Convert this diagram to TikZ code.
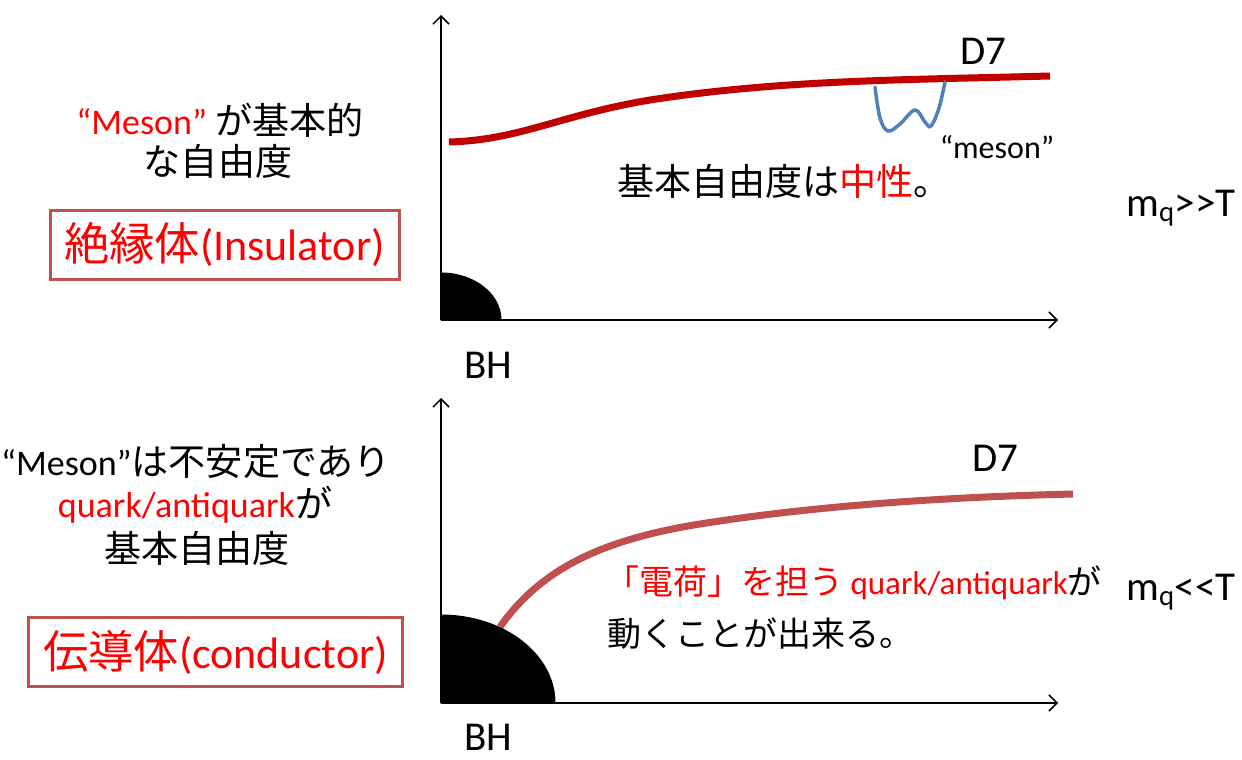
\documentclass[tikz,border=0pt]{standalone}
\usepackage{fontspec}
\setmainfont{Carlito}
\newfontfamily\plainlat{Carlito}
\newfontfamily\jp{Noto Sans CJK JP}[Scale=1.03]
\usetikzlibrary{arrows.meta}
\definecolor{dred}{HTML}{C00000}
\definecolor{bred}{HTML}{C0504D}
\definecolor{mblue}{HTML}{4F81BD}
\definecolor{tred}{HTML}{FF0000}
\tikzset{
  axisline/.style={line width=1.5pt, -{Straight Barb[length=8pt,width=16pt]}},
  body/.style={font=\fontsize{36}{42}\selectfont, inner sep=0pt, align=center},
  smallbody/.style={font=\fontsize{33}{40}\selectfont, inner sep=0pt},
  lbl/.style={font=\fontsize{41}{46}\selectfont, inner sep=0pt},
  kbox/.style={draw=bred, line width=3pt, text=tred, font=\fontsize{44}{50}\selectfont, inner sep=0pt, minimum height=69pt},
  bh/.style={fill=black, draw=black, line width=1pt, line join=round},
  dsev/.style={line width=7pt},
}
\begin{document}
\begin{tikzpicture}[x=1pt,y=-1pt]
\useasboundingbox (0,0) rectangle (1242,760);
% ---------- top panel ----------
\coordinate (o1) at (441,320);
\coordinate (ytop1) at (441,15);
\coordinate (xend1) at (1058,320);
\draw[dsev, dred] (449,142) .. controls (520,140) and (560,115) .. (650,100)
  .. controls (780,80) and (900,80) .. (1050,76);
\draw[mblue, line width=3.5pt, line cap=round] plot[smooth, tension=0.6] coordinates
  {(875,87) (880,118) (888,131) (900,124) (915,110) (925,122) (931,126) (939,108) (945,82)};
\fill[bh] (o1) -- (441,273) arc[start angle=-90, end angle=0, x radius=60, y radius=47] -- cycle;
\draw[axisline] (o1) -- (ytop1);
\draw[axisline] (o1) -- (xend1);
\node[lbl] (bh1) at (488,365) {BH};
\node[lbl] (d71) at (983,51) {D7};
\node[body, font=\fontsize{32}{36}\selectfont] (mes) at (997,147) {“meson”};
\node[body] (neutral) at (784,181) {{\jp 基本自由度は}\textcolor{tred}{\jp 中性}{\jp 。}};
\node[lbl, font=\fontsize{41}{46}\plainlat] (mq1) at (1181,208) {m\textsubscript{q}>>T};
\node[body] (t1a) at (220,120) {\textcolor{tred}{“Meson”} {\jp が基本的}};
\node[body] (t1b) at (218,161) {\jp な自由度};
\node[kbox, minimum width=349pt] (box1) at (224.5,244.5) {{\jp 絶縁体}(Insulator)};
% ---------- bottom panel ----------
\coordinate (o2) at (441,703);
\coordinate (ytop2) at (441,398);
\coordinate (xend2) at (1058,703);
\draw[dsev, bred] (500,627) .. controls (540,570) and (600,540) .. (700,524)
  .. controls (820,505) and (950,497) .. (1073,494);
\fill[bh] (o2) -- (441,615) arc[start angle=-90, end angle=0, x radius=114, y radius=88] -- cycle;
\draw[axisline] (o2) -- (ytop2);
\draw[axisline] (o2) -- (xend2);
\node[lbl] (bh2) at (488,737) {BH};
\node[lbl] (d72) at (995,458) {D7};
\node[lbl, font=\fontsize{41}{46}\plainlat] (mq2) at (1181,592) {m\textsubscript{q}<<T};
\node[smallbody, anchor=west] (c1) at (605,583) {\textcolor{tred}{\jp 「電荷」を担う} \textcolor{tred}{quark/antiquark}{\jp が}};
\node[smallbody, anchor=west] (c2) at (607,634) {\jp 動くことが出来る。};
\node[body] (t2a) at (196,461) {“Meson”{\jp は不安定であり}};
\node[body] (t2b) at (195,505) {\textcolor{tred}{quark/antiquark}{\jp が}};
\node[body] (t2c) at (197,548) {\jp 基本自由度};
\node[kbox, minimum width=374pt] (box2) at (215.5,652) {{\jp 伝導体}(conductor)};
\end{tikzpicture}
\end{document}
